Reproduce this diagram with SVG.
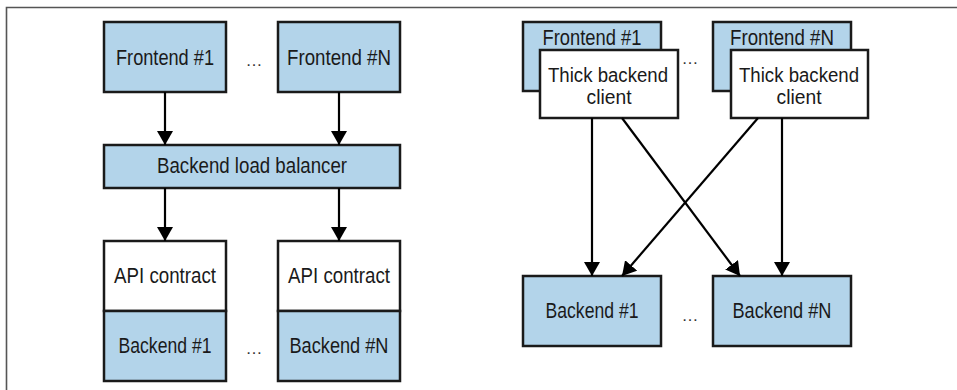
<svg xmlns="http://www.w3.org/2000/svg" width="957" height="390" viewBox="0 0 957 390">
<style>
.b{fill:#b3d4ea;stroke:#1a1a1a;stroke-width:2.5}
.w{fill:#ffffff;stroke:#1a1a1a;stroke-width:2.5}
.t{font-family:"Liberation Sans Narrow","Liberation Sans",sans-serif;font-size:22.5px;fill:#1a1a1a;text-anchor:middle}
.t2{font-size:20px}
.c{fill:none;stroke:#000;stroke-width:2.2;marker-end:url(#ah)}
.d{font-family:"Liberation Sans",sans-serif;font-size:17px;fill:#333;text-anchor:middle}
</style>
<defs>
<marker id="ah" markerUnits="userSpaceOnUse" markerWidth="16" markerHeight="16" refX="14" refY="8" orient="auto">
<path d="M0,0 L14,8 L0,16 Z" fill="#000"/>
</marker>
</defs>
<rect width="957" height="390" fill="#ffffff"/>
<path d="M6.5,390 V7.5 H957" fill="none" stroke="#555" stroke-width="1.6"/>
<g id="left-frontend-1"><rect class="b" x="104" y="22" width="122" height="70"/><text class="t" x="165" y="65" textLength="98" lengthAdjust="spacingAndGlyphs">Frontend #1</text></g>
<g id="left-frontend-n"><rect class="b" x="278" y="22" width="122" height="70"/><text class="t" x="339" y="65" textLength="104" lengthAdjust="spacingAndGlyphs">Frontend #N</text></g>
<g id="left-dots-top"><text class="d" x="254" y="66" textLength="22" lengthAdjust="spacing">…</text></g>
<g id="load-balancer"><rect class="b" x="104" y="145" width="296" height="43"/><text class="t" x="252" y="173" textLength="190" lengthAdjust="spacingAndGlyphs">Backend load balancer</text></g>
<g id="left-backend-1"><rect class="w" x="104" y="241" width="122" height="70"/><text class="t" x="165" y="283" textLength="102" lengthAdjust="spacingAndGlyphs">API contract</text><rect class="b" x="104" y="311" width="122" height="70"/><text class="t" x="165" y="353" textLength="93" lengthAdjust="spacingAndGlyphs">Backend #1</text></g>
<g id="left-backend-n"><rect class="w" x="278" y="241" width="122" height="70"/><text class="t" x="339" y="283" textLength="102" lengthAdjust="spacingAndGlyphs">API contract</text><rect class="b" x="278" y="311" width="122" height="70"/><text class="t" x="339" y="353" textLength="99" lengthAdjust="spacingAndGlyphs">Backend #N</text></g>
<g id="left-dots-bottom"><text class="d" x="254" y="354" textLength="22" lengthAdjust="spacing">…</text></g>
<g id="right-frontend-1"><rect class="b" x="523" y="22" width="138" height="69"/><text class="t" x="592" y="45" textLength="99" lengthAdjust="spacingAndGlyphs">Frontend #1</text><rect class="w" x="540" y="50" width="138" height="68"/><text class="t t2" x="608" y="82" textLength="120" lengthAdjust="spacingAndGlyphs">Thick backend</text><text class="t t2" x="609" y="104" textLength="45" lengthAdjust="spacingAndGlyphs">client</text></g>
<g id="right-frontend-n"><rect class="b" x="713" y="22" width="138" height="69"/><text class="t" x="782" y="45" textLength="104" lengthAdjust="spacingAndGlyphs">Frontend #N</text><rect class="w" x="731" y="50" width="137" height="68"/><text class="t t2" x="799" y="82" textLength="120" lengthAdjust="spacingAndGlyphs">Thick backend</text><text class="t t2" x="799" y="104" textLength="45" lengthAdjust="spacingAndGlyphs">client</text></g>
<g id="right-dots-top"><text class="d" x="690" y="64" textLength="18" lengthAdjust="spacing">…</text></g>
<g id="right-backend-1"><rect class="b" x="523" y="276" width="138" height="70"/><text class="t" x="592" y="318" textLength="93" lengthAdjust="spacingAndGlyphs">Backend #1</text></g>
<g id="right-backend-n"><rect class="b" x="713" y="276" width="138" height="70"/><text class="t" x="782" y="318" textLength="99" lengthAdjust="spacingAndGlyphs">Backend #N</text></g>
<g id="right-dots-bottom"><text class="d" x="690" y="321" textLength="22" lengthAdjust="spacing">…</text></g>
<g id="connectors">
<path class="c" d="M165,92 V145"/>
<path class="c" d="M339,92 V145"/>
<path class="c" d="M165,188 V241"/>
<path class="c" d="M339,188 V241"/>
<path class="c" d="M592,118 V276"/>
<path class="c" d="M782,118 V276"/>
<path class="c" d="M622,118 L740,276"/>
<path class="c" d="M758,118 L622,276"/>
</g>
</svg>
